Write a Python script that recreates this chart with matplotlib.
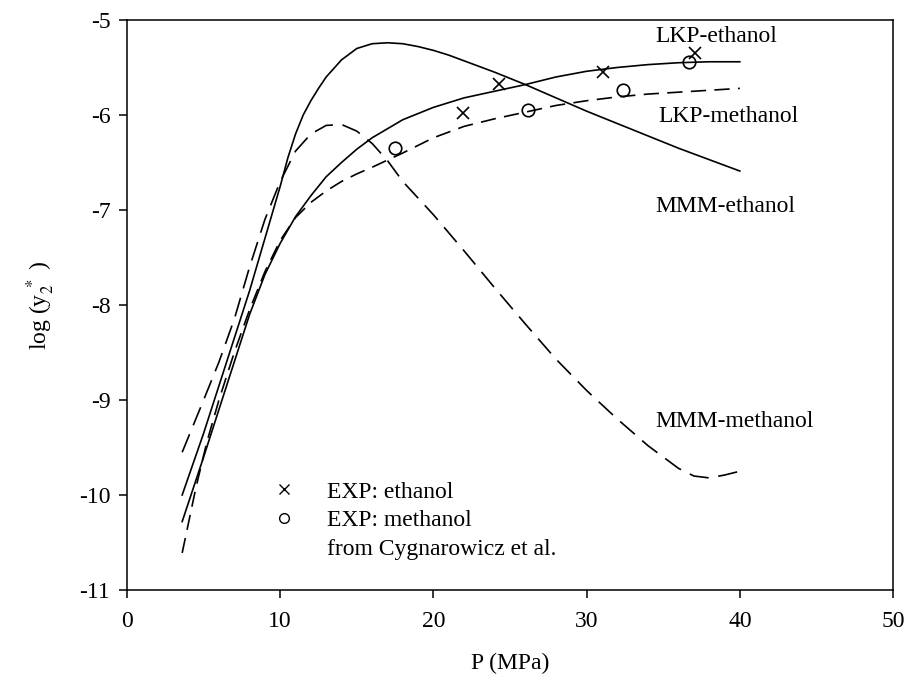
import matplotlib
matplotlib.use('Agg')
import matplotlib.pyplot as plt
from matplotlib.lines import Line2D

plt.rcParams['font.family'] = ['Liberation Serif', 'DejaVu Serif']
plt.rcParams['mathtext.fontset'] = 'stix'
plt.rcParams['axes.unicode_minus'] = False
plt.rcParams['lines.scale_dashes'] = False

# MMM-ethanol (solid, high maximum)
mmm_eth_p = [3.6, 5, 6, 7, 8, 9, 10, 10.5, 11, 11.5, 12, 12.5, 13, 14, 15, 16, 17, 18,
             19, 20, 21, 22, 24, 26, 28, 30, 32, 34, 36, 38, 40]
mmm_eth_y = [-10.0, -9.35, -8.85, -8.35, -7.85, -7.3, -6.75, -6.45, -6.2, -6.0, -5.85,
             -5.72, -5.6, -5.42, -5.3, -5.25, -5.24, -5.25, -5.28, -5.32, -5.37, -5.43,
             -5.55, -5.68, -5.82, -5.96, -6.09, -6.22, -6.35, -6.47, -6.59]

# MMM-methanol (dashed, maximum then minimum)
mmm_met_p = [3.6, 5, 6, 7, 8, 9, 10, 11, 12, 13, 14, 15, 16, 17, 18, 20, 22, 24, 26,
             28, 30, 32, 34, 35, 36, 37, 38, 39, 40]
mmm_met_y = [-9.55, -9.0, -8.6, -8.15, -7.6, -7.1, -6.7, -6.38, -6.2, -6.11, -6.1,
             -6.17, -6.3, -6.48, -6.7, -7.05, -7.43, -7.82, -8.2, -8.57, -8.9, -9.2,
             -9.48, -9.6, -9.72, -9.8, -9.82, -9.79, -9.75]

# LKP-ethanol (solid, rising)
lkp_eth_p = [3.6, 5, 6, 7, 8, 9, 10, 11, 12, 13, 14, 15, 16, 18, 20, 22, 24, 26, 28,
             30, 32, 34, 36, 38, 40]
lkp_eth_y = [-10.28, -9.6, -9.1, -8.6, -8.1, -7.68, -7.35, -7.07, -6.85, -6.65, -6.5,
             -6.36, -6.24, -6.05, -5.92, -5.82, -5.75, -5.68, -5.6, -5.54, -5.5, -5.47,
             -5.45, -5.44, -5.44]

# LKP-methanol (dashed, rising)
lkp_met_p = [3.6, 4.5, 5.2, 6, 7, 8, 9, 10, 11, 12, 13, 14, 15, 16, 18, 20, 22, 24,
             26, 28, 30, 32, 34, 36, 38, 40]
lkp_met_y = [-10.61, -9.92, -9.45, -9.0, -8.5, -8.05, -7.65, -7.32, -7.08, -6.92,
             -6.8, -6.7, -6.62, -6.55, -6.4, -6.24, -6.12, -6.04, -5.97, -5.9, -5.85,
             -5.81, -5.78, -5.76, -5.74, -5.72]

# experimental points
exp_eth_p = [21.9, 24.3, 31.1, 37.1]
exp_eth_y = [-5.98, -5.67, -5.55, -5.35]
exp_met_p = [17.5, 26.2, 32.4, 36.7]
exp_met_y = [-6.35, -5.95, -5.74, -5.44]

curve_names = ['LKP-ethanol', 'LKP-methanol', 'MMM-ethanol', 'MMM-methanol']
name_p = [34.5, 34.7, 34.5, 34.5]
name_y = [-5.23, -6.07, -7.02, -9.28]

fig = plt.figure(figsize=(9.08, 6.77), dpi=100)
ax = fig.add_axes([0.1399, 0.1285, 0.8436, 0.842])

lw = 1.2
ax.plot(mmm_eth_p, mmm_eth_y, color='black', lw=lw)
ax.plot(lkp_eth_p, lkp_eth_y, color='black', lw=lw)
ax.plot(mmm_met_p, mmm_met_y, color='black', lw=lw, dashes=(14, 7))
ax.plot(lkp_met_p, lkp_met_y, color='black', lw=lw, dashes=(11, 6))

ax.plot(exp_eth_p, exp_eth_y, 'x', color='black', ms=9, mew=1.2)
ax.plot(exp_met_p, exp_met_y, 'o', color='black', ms=9, mew=1.2, mfc='none')

for name, px, py in zip(curve_names, name_p, name_y):
    ax.text(px, py, name, fontsize=17, ha='left', va='baseline')

ax.set_xlim(0, 50)
ax.set_ylim(-11, -5)
ax.set_xticks([0, 10, 20, 30, 40, 50])
ax.set_yticks([-11, -10, -9, -8, -7, -6, -5])
ax.tick_params(axis='both', direction='out', length=6, width=1.1, labelsize=17)
ax.tick_params(axis='x', pad=9)
ax.tick_params(axis='y', pad=6)
for s in ax.spines.values():
    s.set_linewidth(1.1)

ax.set_xlabel('P (MPa)', fontsize=17, labelpad=15)
ax.set_ylabel(r'log (y$_2^{\ *}$ )', fontsize=17, labelpad=16)

handles = [Line2D([], [], ls='none', marker='x', color='black', ms=7, mew=1.0),
           Line2D([], [], ls='none', marker='o', color='black', ms=7, mew=1.0, mfc='none'),
           Line2D([], [], ls='none')]
labels = ['EXP: ethanol', 'EXP: methanol', 'from Cygnarowicz et al.']
ax.legend(handles, labels, loc='upper left', bbox_to_anchor=(0.19, 0.191),
          frameon=False, fontsize=17, handlelength=1.0, handletextpad=1.3,
          labelspacing=0.3, borderpad=0, borderaxespad=0)

fig.savefig('out.png', dpi=100, facecolor='white')
